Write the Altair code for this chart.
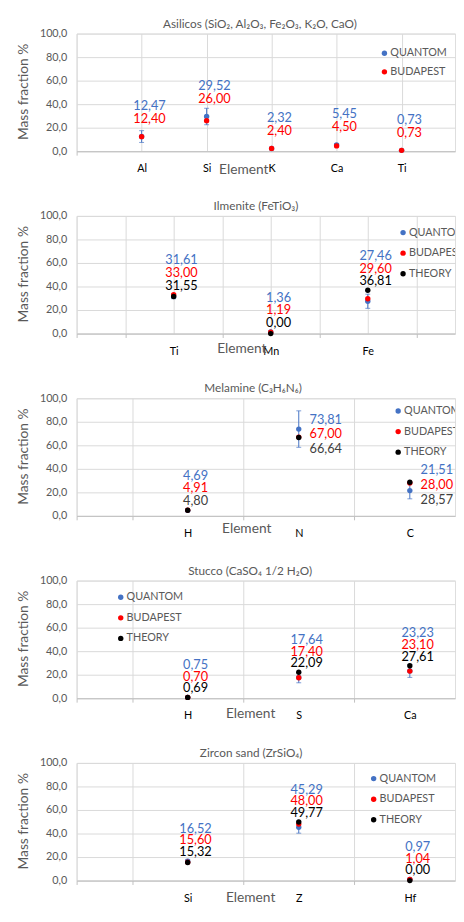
import json
import altair as alt
import pandas as pd

FONT = "Lato"
BLUE = "#4472C4"
RED = "#FF0000"
BLACK = "#000000"
GRID = "#D9D9D9"
GRAY = "#595959"

# ---------------- data ----------------
asil_elements = ["Al", "Si", "K", "Ca", "Ti"]
asil_quantom = [12.47, 29.52, 2.32, 5.45, 0.73]
asil_quantom_err = [5.0, 7.0, 0.0, 1.0, 0.0]
asil_budapest = [12.40, 26.00, 2.40, 4.50, 0.73]

ilm_elements = ["Ti", "Mn", "Fe"]
ilm_quantom = [31.61, 1.36, 27.46]
ilm_quantom_err = [2.0, 0.3, 6.0]
ilm_budapest = [33.00, 1.19, 29.60]
ilm_theory = [31.55, 0.00, 36.81]

mel_elements = ["H", "N", "C"]
mel_quantom = [4.69, 73.81, 21.51]
mel_quantom_err = [0.5, 15.5, 7.0]
mel_budapest = [4.91, 67.00, 28.00]
mel_theory = [4.80, 66.64, 28.57]

stu_elements = ["H", "S", "Ca"]
stu_quantom = [0.75, 17.64, 23.23]
stu_quantom_err = [0.2, 4.5, 5.5]
stu_budapest = [0.70, 17.40, 23.10]
stu_theory = [0.69, 22.09, 27.61]

zir_elements = ["Si", "Z", "Hf"]
zir_quantom = [16.52, 45.29, 0.97]
zir_quantom_err = [1.5, 5.0, 0.2]
zir_budapest = [15.60, 48.00, 1.04]
zir_theory = [15.32, 49.77, 0.00]

y_ticks = [0, 20, 40, 60, 80, 100]
y_title_main = "Mass fraction"
y_title_unit = "%"

PW = 386
PH = 120

panels = [
    dict(title="Asilicos (SiO\u2082, Al\u2082O\u2083, Fe\u2082O\u2083, K\u2082O, CaO)",
         elements=asil_elements,
         series=[("QUANTOM", asil_quantom, BLUE), ("BUDAPEST", asil_budapest, RED)],
         err=asil_quantom_err, unit=66.3, grid=[0, 1, 2, 3, 4, 5], halfgrid_only=False,
         place=["above"] * 5, dys={"QUANTOM": -31, "BUDAPEST": -18},
         legend=(314, 20, 19), title_dx=-6, etx=170, ety=19, theory_color=BLACK),
    dict(title="Ilmenite (FeTiO\u2083)",
         elements=ilm_elements,
         series=[("QUANTOM", ilm_quantom, BLUE), ("BUDAPEST", ilm_budapest, RED),
                 ("THEORY", ilm_theory, BLACK)],
         err=ilm_quantom_err, unit=99, grid=[0, 0.5, 1, 1.5, 2, 2.5, 3, 3.5], halfgrid_only=False,
         place=["above"] * 3, dys={"QUANTOM": -35, "BUDAPEST": -22, "THEORY": -9},
         legend=(333, 17, 21), title_dx=-10, etx=168, ety=15, theory_color=BLACK),
    dict(title="Melamine (C\u2083H\u2086N\u2086)",
         elements=mel_elements,
         series=[("QUANTOM", mel_quantom, BLUE), ("BUDAPEST", mel_budapest, RED),
                 ("THEORY", mel_theory, BLACK)],
         err=mel_quantom_err, unit=113.3, grid=[0, 0.5, 1, 1.5, 2, 2.5, 3], halfgrid_only=True,
         place=["above", "right", "right"], dys={"QUANTOM": -35, "BUDAPEST": -22, "THEORY": -9},
         legend=(328, 13, 21), title_dx=-13, etx=173, ety=13, theory_color="#404040"),
    dict(title="Stucco (CaSO\u2084 1/2 H\u2082O)",
         elements=stu_elements,
         series=[("QUANTOM", stu_quantom, BLUE), ("BUDAPEST", stu_budapest, RED),
                 ("THEORY", stu_theory, BLACK)],
         err=stu_quantom_err, unit=113.3, grid=[0, 0.5, 1, 1.5, 2, 2.5, 3], halfgrid_only=True,
         place=["above"] * 3, dys={"QUANTOM": -33, "BUDAPEST": -21, "THEORY": -9},
         legend=(45, 17, 21), title_dx=-16, etx=177, ety=16, theory_color=BLACK),
    dict(title="Zircon sand (ZrSiO\u2084)",
         elements=zir_elements,
         series=[("QUANTOM", zir_quantom, BLUE), ("BUDAPEST", zir_budapest, RED),
                 ("THEORY", zir_theory, BLACK)],
         err=zir_quantom_err, unit=113.3, grid=[0, 0.5, 1, 1.5, 2, 2.5, 3], halfgrid_only=True,
         place=["above"] * 3, dys={"QUANTOM": -33, "BUDAPEST": -21, "THEORY": -9},
         legend=(303, 16, 21), title_dx=-15, etx=177, ety=17, theory_color=BLACK),
]

RIGHT_DY = {"QUANTOM": -15, "BUDAPEST": 0, "THEORY": 15}


def fmt(v):
    return f"{v:.2f}".replace(".", ",")


def make_panel(p):
    pts, labs, errs = [], [], []
    for i, el in enumerate(p["elements"]):
        vals = [s[1][i] for s in p["series"]]
        top = max(vals)
        mean = sum(vals) / len(vals)
        for k, (name, values, col) in enumerate(p["series"]):
            v = values[i]
            pts.append(dict(pos=i + 1, value=v, series=name, rank=k))
            labs.append(dict(pos=i + 1, series=name, text=fmt(v), place=p["place"][i],
                             anchor=top if p["place"][i] == "above" else mean))
        e = p["err"][i]
        if e > 0:
            q = p["series"][0][1][i]
            errs.append(dict(pos=i + 1, lo=max(q - e, 0), hi=q + e))
    pts = pd.DataFrame(pts)
    labs = pd.DataFrame(labs)
    errs = pd.DataFrame(errs)
    names = [s[0] for s in p["series"]]
    colors = [s[2] for s in p["series"]]

    xscale = alt.Scale(domain=[0, PW / p["unit"]], nice=False, zero=False)
    yscale = alt.Scale(domain=[0, 100], nice=False)
    el_js = json.dumps(p["elements"])
    if p["halfgrid_only"]:
        grid_test = "datum.value % 1 !== 0 || datum.value === 0"
    else:
        grid_test = "true"
    xaxis = alt.Axis(
        values=p["grid"],
        labelExpr=f"(datum.value % 1 === 0 && datum.value > 0) ? {el_js}[datum.value - 1] : ''",
        labelFont=FONT, labelFontSize=11, labelColor=BLACK, labelPadding=8,
        labelOverlap=False, labelFlush=False,
        title="Element", titleFont=FONT, titleFontSize=14, titleFontWeight="normal",
        titleColor=GRAY, titleX=p["etx"], titleY=p["ety"], titleBaseline="middle",
        titleAlign="center",
        domainColor="#BFBFBF", tickSize=4,
        tickColor={"condition": {"test": "datum.value % 1 !== 0 || datum.value === 0", "value": "#BFBFBF"},
                   "value": "transparent"},
        gridColor={"condition": {"test": grid_test, "value": GRID}, "value": "transparent"},
    )
    yaxis = alt.Axis(
        values=y_ticks, labelExpr="replace(format(datum.value, '.1f'), '.', ',')",
        labelFont=FONT, labelFontSize=11, labelColor=GRAY, labelPadding=10,
        title=None, gridColor=GRID, domain=False, ticks=False,
    )

    def X(f="pos:Q"):
        return alt.X(f, scale=xscale, axis=xaxis)

    def Y(f):
        return alt.Y(f, scale=yscale, axis=yaxis)

    points = alt.Chart(pts).mark_circle(size=30, opacity=1).encode(
        x=X(), y=Y("value:Q"),
        color=alt.Color("series:N", scale=alt.Scale(domain=names, range=colors), legend=None),
        order=alt.Order("rank:Q"),
    )
    layers = []
    if len(errs):
        layers.append(alt.Chart(errs).mark_rule(color=BLUE, strokeWidth=1).encode(
            x=X(), y=Y("lo:Q"), y2="hi:Q"))
        for f in ["lo", "hi"]:
            layers.append(alt.Chart(errs).mark_tick(color=BLUE, orient="horizontal",
                                                    size=5, thickness=1).encode(
                x=X(), y=Y(f"{f}:Q")))
    layers.append(points)
    for name, values, col in p["series"]:
        tcol = p["theory_color"] if name == "THEORY" else col
        for place in ["above", "right"]:
            sub = labs[(labs.series == name) & (labs.place == place)]
            if not len(sub):
                continue
            if place == "above":
                mk = dict(dx=8, dy=p["dys"][name], align="center")
            else:
                mk = dict(dx=11, dy=RIGHT_DY[name], align="left")
            layers.append(alt.Chart(sub).mark_text(
                baseline="middle", font=FONT, fontSize=13, color=tcol, clip=True, **mk).encode(
                x=X(), y=Y("anchor:Q"), text="text:N"))
    # legend (inside the plot area, clipped at its edge like the original)
    lx, ly, lstep = p["legend"]
    for k, (name, values, col) in enumerate(p["series"]):
        one = pd.DataFrame({"t": [name]})
        layers.append(alt.Chart(one).mark_circle(size=30, opacity=1, color=col, clip=True).encode(
            x=alt.value(lx), y=alt.value(ly + k * lstep)))
        layers.append(alt.Chart(one).mark_text(
            align="left", baseline="middle", font=FONT, fontSize=11, color=GRAY, clip=True
        ).encode(x=alt.value(lx + 6), y=alt.value(ly + k * lstep), text="t:N"))
    # y-axis title, rotated
    layers.append(alt.Chart(pd.DataFrame({"t": [y_title_main]})).mark_text(
        angle=270, font=FONT, fontSize=14, color=GRAY, align="center", baseline="middle"
    ).encode(x=alt.value(-54), y=alt.value(67), text="t:N"))
    layers.append(alt.Chart(pd.DataFrame({"t": [y_title_unit]})).mark_text(
        angle=270, font=FONT, fontSize=14, color=GRAY, align="center", baseline="middle"
    ).encode(x=alt.value(-54), y=alt.value(16), text="t:N"))
    return alt.layer(*layers).properties(
        width=PW, height=PH,
        title=alt.TitleParams(p["title"], font=FONT, fontSize=12, fontWeight="normal",
                              color=GRAY, dx=p["title_dx"], offset=-3),
    )


chart = alt.vconcat(*[make_panel(p) for p in panels], spacing=66, bounds="flush").resolve_scale(
    x="independent", y="independent", color="independent"
).properties(
    padding={"left": 8, "top": 0, "right": 0, "bottom": 0},
).configure_view(strokeWidth=0).configure(font=FONT)

chart.save("out.html", embed_options={"renderer": "svg", "actions": False})
